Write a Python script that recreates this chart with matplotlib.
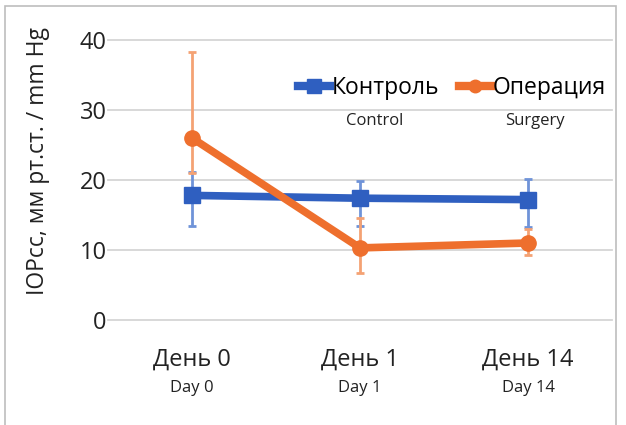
import matplotlib.pyplot as plt
from matplotlib.lines import Line2D
from matplotlib.patches import Rectangle

# data
days_ru = ['День 0', 'День 1', 'День 14']
days_en = ['Day 0', 'Day 1', 'Day 14']
control = [17.8, 17.4, 17.2]
control_lo = [4.3, 4.0, 3.9]
control_hi = [3.4, 2.5, 3.0]
surgery = [26.0, 10.3, 11.0]
surgery_lo = [5.0, 3.6, 1.7]
surgery_hi = [12.3, 4.3, 2.0]
yticks = [0, 10, 20, 30, 40]

blue = '#2F5FC0'
orange = '#EE6F2D'
font = ['Open Sans', 'DejaVu Sans']
plt.rcParams['font.family'] = font

fig = plt.figure(figsize=(6.26, 4.25), dpi=100)
ax = fig.add_axes([108/626, 1-320/425, 504/626, 280/425])

x = list(range(len(days_ru)))

ax.errorbar(x, control, yerr=[control_lo, control_hi], fmt='none',
            ecolor='#6F93D8', elinewidth=2, capsize=3, capthick=2, zorder=2)
ax.plot(x, control, color=blue, lw=5.5, marker='s', ms=12, zorder=3, clip_on=False)
ax.errorbar(x, surgery, yerr=[surgery_lo, surgery_hi], fmt='none',
            ecolor='#F4A274', elinewidth=2, capsize=3, capthick=2, zorder=4)
ax.plot(x, surgery, color=orange, lw=5.5, marker='o', ms=11, zorder=5, clip_on=False)

ax.set_xlim(-0.5, 2.5)
ax.set_ylim(0, 40)
ax.set_yticks(yticks)
ax.set_yticklabels([str(v) for v in yticks], fontsize=17, color='#222222')
ax.set_xticks(x)
ax.set_xticklabels(days_ru, fontsize=17, color='#222222')
ax.tick_params(length=0, pad=1)
ax.tick_params(axis='x', pad=20)
ax.grid(axis='y', color='#D6D6D6', lw=1.3, clip_on=False)
ax.set_axisbelow(True)
for s in ax.spines.values():
    s.set_visible(False)

for xi, lab in zip(x, days_en):
    ax.text(xi, -0.243, lab, transform=ax.get_xaxis_transform(),
            ha='center', va='center', fontsize=12, color='#222222')

fig.text(38/626, 1-161/425, 'IOPcc, мм рт.ст. / mm Hg', rotation=90,
         ha='center', va='center', fontsize=16.5, color='#222222')

# legend
handles = [Line2D([], [], color=blue, lw=6, marker='s', ms=10),
           Line2D([], [], color=orange, lw=6, marker='o', ms=9)]
leg = ax.legend(handles, ['Контроль', 'Операция'], ncol=2, frameon=False,
                loc='center', bbox_to_anchor=(452/626, 1-88/425),
                bbox_transform=fig.transFigure, fontsize=16.5,
                handlelength=1.4, handletextpad=0.05, columnspacing=0.9,
                borderaxespad=0)
fig.text(375/626, 1-121/425, 'Control', ha='center', va='center', fontsize=12, color='#222222')
fig.text(535/626, 1-121/425, 'Surgery', ha='center', va='center', fontsize=12, color='#222222')

fig.patches.append(Rectangle((5/626, -0.05), 611/626, 1-6/425+0.05,
                             transform=fig.transFigure, fill=False,
                             edgecolor='#BDBDBD', lw=1.2))

fig.savefig('out.png', dpi=100)
